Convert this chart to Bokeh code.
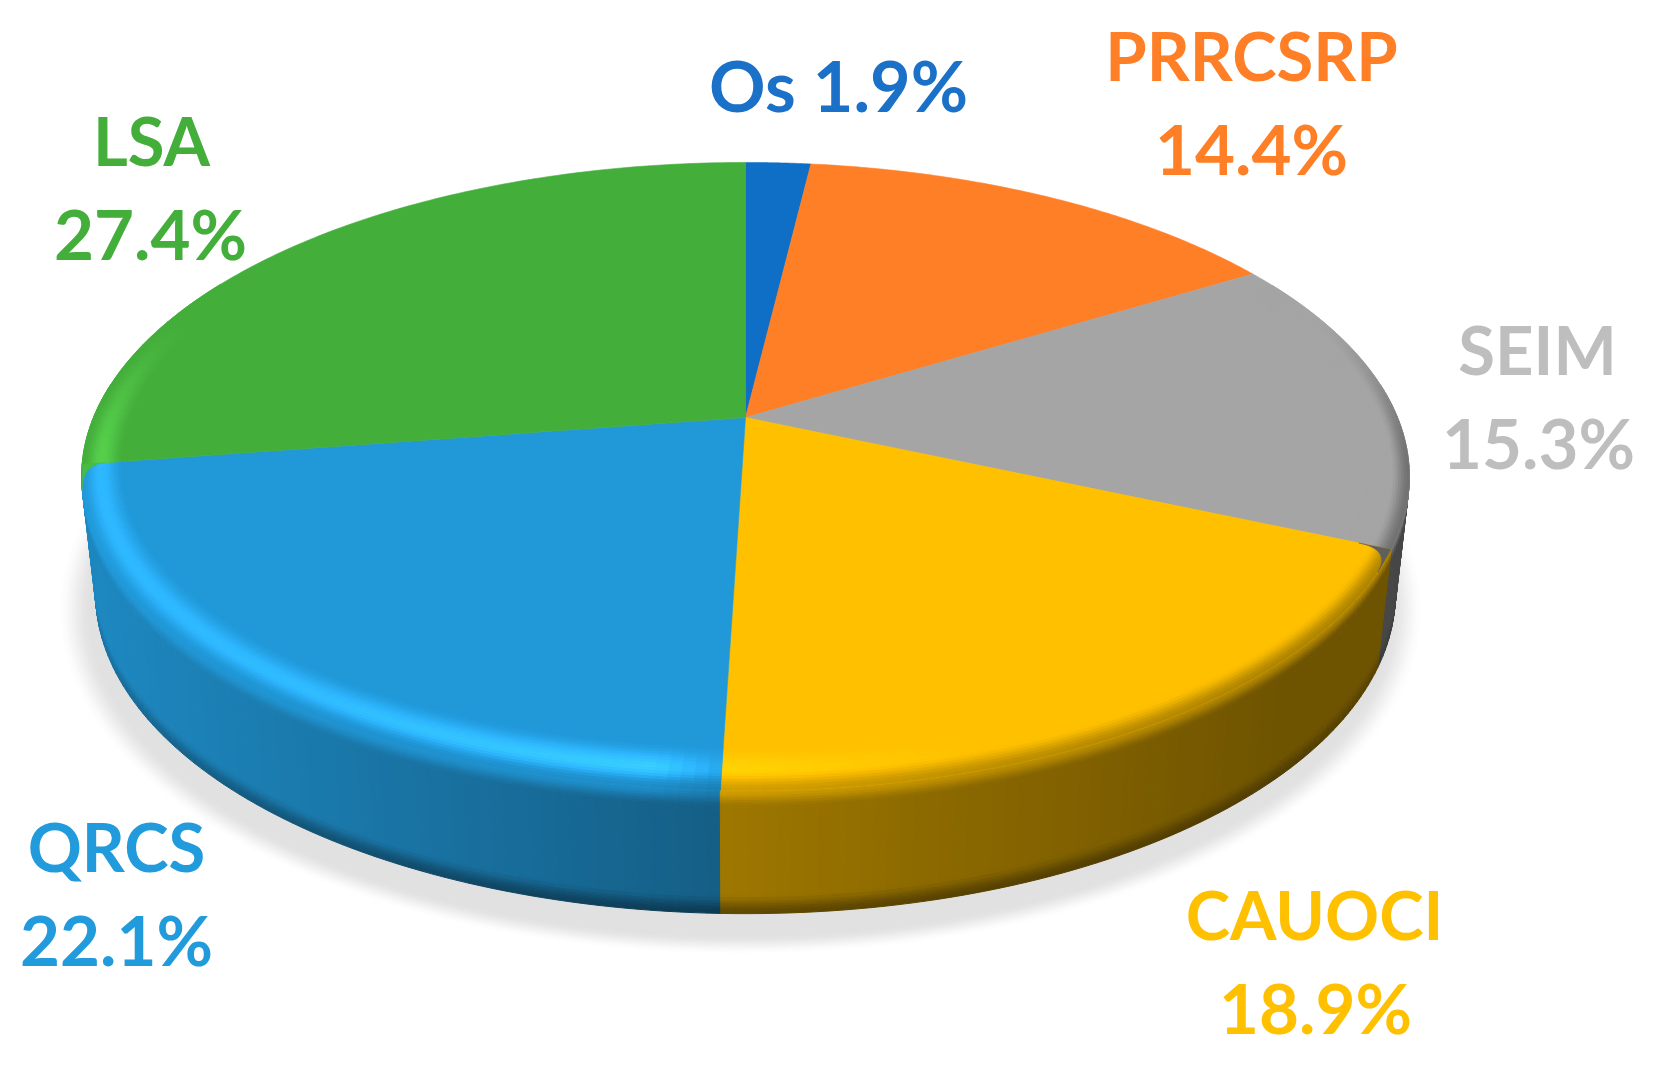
import numpy as np
from bokeh.plotting import figure
from bokeh.models import Range1d, ColumnDataSource
from bokeh.core.properties import value
from bokeh.embed import file_html
from bokeh.resources import INLINE

categories = ["Os", "PRRCSRP", "SEIM", "CAUOCI", "QRCS", "LSA"]
shares = [1.9, 14.4, 15.3, 18.9, 22.1, 27.4]
colors = [(15, 111, 198), (255, 127, 39), (165, 165, 165), (255, 192, 0), (33, 153, 217), (68, 174, 59)]
label_colors = ["#1B70C8", "#FF7F27", "#BEBEBE", "#FFC000", "#219BDB", "#44AE3B"]

# layout of the projected disc, in page pixels
AX, AY = 745.0, 417.0      # image of the pie's centre
K, R, S = 0.188, 652.0, 303.0
CX, CY, RX, RY = 746.0, 476.0, 664.0, 314.0
BX, BY, BRX, BRY = 746.0, 593.0, 650.0, 320.0


def proj(th, r=1.0):
    u, v = r * np.sin(th), -r * np.cos(th)
    d = 1 - K * v
    return AX + R * u / d, AY + S * v / d


def rim(th):
    return proj(th)


def inner(th):
    front = max(-np.cos(th), 0.0)
    return proj(th, 0.94 - 0.04 * front * front)


def hex_col(c):
    c = np.clip(np.round(c), 0, 255).astype(int)
    return "#%02x%02x%02x" % tuple(c)


def lit(base, f):
    base = np.array(base, float)
    return base * f + (max(f - 1, 0) * 60)


def side_f(x):
    return np.interp(x, [100, 720, 1300], [0.88, 0.62, 0.43])


def hi_f(x):
    return np.interp(x, [80, 300, 650, 715, 1000, 1400], [1.15, 1.17, 1.25, 1.08, 1.0, 1.0])


def smooth(a, b, x):
    t = np.clip((x - a) / (b - a), 0, 1)
    return t * t * (3 - 2 * t)


p = figure(width=1640, height=1060, x_range=Range1d(0, 1640), y_range=Range1d(1060, 0),
           output_backend="svg", toolbar_location=None, min_border=0,
           outline_line_color=None, background_fill_color="white")
p.axis.visible = False
p.grid.visible = False

# soft shadow under the disc
n = 22
ang = np.linspace(0, 2 * np.pi, 180)
for i in range(n):
    t = i / (n - 1)
    g = 255 - 30 * smooth(0, 1, t)
    xs = 740 + (684 - 34 * t) * np.cos(ang)
    ys = 610 + (345 - 20 * t) * np.sin(ang)
    p.patch(xs, ys, fill_color=hex_col(np.array([g, g, g])), line_color=None)

# slice boundaries from the values
edges = np.concatenate([[0], np.cumsum(shares)]) / sum(shares) * 2 * np.pi

# side wall, painted back to front
U = [0, 0.02, 0.04, 0.06, 0.08, 0.10, 0.12, 0.14, 0.16, 0.5, 0.84, 0.87, 0.9, 0.92, 0.94, 0.96, 0.98, 1.0]
quads = []
for k, base in enumerate(colors):
    m = max(int(np.degrees(edges[k + 1] - edges[k])), 2)
    ths = np.linspace(edges[k], edges[k + 1], m + 1)
    for a, b in zip(ths[:-1], ths[1:]):
        xa, ya = rim(a)
        xb, yb = rim(b)
        ea, fa = (xa - CX) / RX, (ya - CY) / RY
        eb, fb = (xb - CX) / RX, (yb - CY) / RY
        if min(fa, fb) < -0.3:
            continue
        for u0, u1 in zip(U[:-1], U[1:]):
            q = []
            for (e, f), uu in (((ea, fa), u0), ((eb, fb), u0), ((eb, fb), u1), ((ea, fa), u1)):
                tx = CX + RX * e
                ty = CY + RY * f
                bx = BX + BRX * e
                by = BY + BRY * f
                q.append((tx + (bx - tx) * uu, ty + (by - ty) * uu))
            xm = (xa + xb) / 2
            um = (u0 + u1) / 2
            wt = smooth(-0.55, 0.0, (fa + fb) / 2)
            sf = side_f(xm)
            hf = 1 + (hi_f(xm) - 1) * wt
            mixv = 0.55 + 0.45 * smooth(0, 0.14, um)
            f_val = hf + (sf - hf) * mixv
            bottom = smooth(0.84, 1.0, um) * (0.1 + 0.28 * max((fa + fb) / 2, 0))
            f_val *= 1 - bottom
            col = hex_col(lit(base, f_val))
            quads.append(((fa + fb) / 2, [c[0] for c in q], [c[1] for c in q], col))
quads.sort(key=lambda r: r[0])
qc = [r[3] for r in quads]
p.patches([r[1] for r in quads], [r[2] for r in quads], fill_color=qc, line_color=qc, line_width=1)

# flat top face
for k, base in enumerate(colors):
    ths = np.linspace(edges[k], edges[k + 1], 120)
    x, y = rim(ths)
    col = hex_col(np.array(base, float))
    p.patch(np.r_[AX, x], np.r_[AY, y], fill_color=col, line_color=col, line_width=0.6)

# rounded bevel just inside the rim
V = np.linspace(0, 1, 17)
qx, qy, qc = [], [], []
for k, base in enumerate(colors):
    m = max(int(np.degrees(edges[k + 1] - edges[k])), 2)
    ths = np.linspace(edges[k], edges[k + 1], m + 1)
    for a, b in zip(ths[:-1], ths[1:]):
        xa, ya = rim(a)
        xb, yb = rim(b)
        fa = (ya - CY) / RY
        fb = (yb - CY) / RY
        if max(fa, fb) < -0.6:
            continue
        xm = (xa + xb) / 2
        wt = smooth(-0.55, 0.0, (fa + fb) / 2)
        sf = side_f(xm)
        hf = hi_f(xm)
        ia = inner(a)
        ib = inner(b)
        for v0, v1 in zip(V[:-1], V[1:]):
            q = [(ia[0] + (xa - ia[0]) * v0, ia[1] + (ya - ia[1]) * v0),
                 (ib[0] + (xb - ib[0]) * v0, ib[1] + (yb - ib[1]) * v0),
                 (ib[0] + (xb - ib[0]) * v1, ib[1] + (yb - ib[1]) * v1),
                 (ia[0] + (xa - ia[0]) * v1, ia[1] + (ya - ia[1]) * v1)]
            vm = (v0 + v1) / 2
            if vm < 0.55:
                f_val = 1 + (hf - 1) * smooth(0, 0.55, vm)
            else:
                f_val = hf + (sf - hf) * 0.55 * smooth(0.55, 1, vm)
            f_val = 1 + (f_val - 1) * wt
            col = hex_col(lit(base, f_val))
            qx.append([c[0] for c in q])
            qy.append([c[1] for c in q])
            qc.append(col)
p.patches(qx, qy, fill_color=qc, line_color=qc, line_width=0.8)


# rounded outer corners where a slice meets the one behind it
def corner(edge, delta, seam, col):
    c = np.array(rim(edge))
    a = np.array(rim(edge - delta))
    b = c + (np.array([AX, AY]) - c) * seam
    t = np.linspace(0, 1, 16)[:, None]
    curve = (1 - t) ** 2 * b + 2 * t * (1 - t) * c + t ** 2 * a
    pts = np.vstack([c[None], curve])
    p.patch(pts[:, 0], pts[:, 1], fill_color=col, line_color=col, line_width=0.5)


corner(edges[3], -0.07, 0.05, "#5f5f5f")         # start of the yellow slice, over the grey
corner(edges[5], 0.08, 0.035, "#49bb40")         # end of the blue slice, over the green

# labels
name_pos = [(838, 84), (1251, 54), (1537, 348), (1314, 913), (116, 845), (151, 139)]
val_pos = [None, (1251, 148), (1538, 442), (1315, 1007), (116, 939), (150, 233)]
tx, ty, tt, tc, ts = [], [], [], [], []
for i, name in enumerate(categories):
    pct = f"{shares[i]}%"
    if val_pos[i] is None:
        tx.append(name_pos[i][0]); ty.append(name_pos[i][1]); tt.append(f"{name} {pct}"); tc.append(label_colors[i]); ts.append("70px")
    else:
        tx.append(name_pos[i][0]); ty.append(name_pos[i][1]); tt.append(name); tc.append(label_colors[i]); ts.append("67px")
        tx.append(val_pos[i][0]); ty.append(val_pos[i][1]); tt.append(pct); tc.append(label_colors[i]); ts.append("69px")
src = ColumnDataSource(dict(x=tx, y=ty, t=tt, c=tc, s=ts))
p.text("x", "y", text="t", source=src, text_color="c", text_font=value("Lato"),
       text_font_style="bold", text_font_size="s", text_align="center", text_baseline="alphabetic")

open("out.html", "w").write(file_html(p, INLINE))
